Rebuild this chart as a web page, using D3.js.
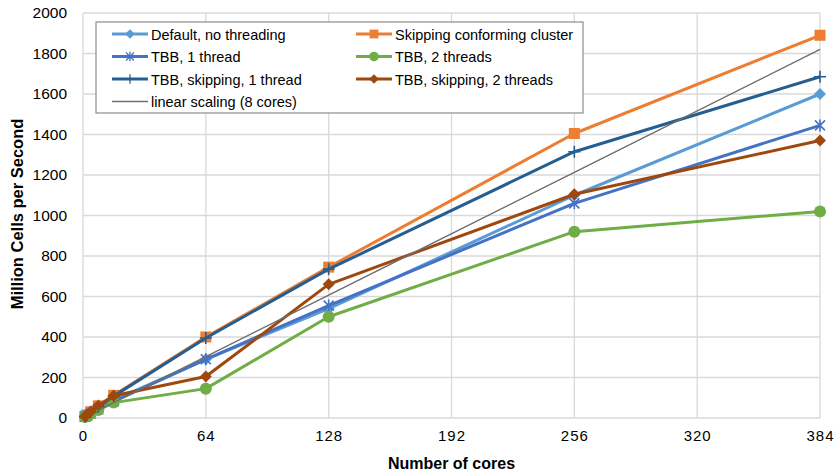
<!DOCTYPE html>
<html>
<head>
<meta charset="utf-8">
<script src="https://cdn.jsdelivr.net/npm/d3@7"></script>
<style>
  body { margin: 0; background: #fff; }
  text { font-family: "Liberation Sans", Arial, sans-serif; fill: #000; }
</style>
</head>
<body>
<svg id="chart" width="834" height="474"></svg>
<script>
// cores on the x axis
var cores = [1, 2, 4, 8, 16, 64, 128, 256, 384];

// series values (million cells per second)
var defaultNoThreading = [6, 12, 24, 46, 88, 290, 540, 1100, 1600];
var skippingConforming = [8, 15, 31, 60, 112, 400, 745, 1405, 1890];
var tbb1Thread = [6, 11, 22, 43, 82, 290, 555, 1060, 1445];
var tbb2Threads = [5, 10, 20, 40, 76, 145, 500, 920, 1020];
var tbbSkip1Thread = [7, 14, 29, 56, 108, 395, 735, 1315, 1685];
var tbbSkip2Threads = [8, 16, 32, 62, 110, 205, 660, 1105, 1370];

var linearCores = [8, 16, 64, 128, 256, 384];
var linearScaling = [38, 76, 303, 607, 1213, 1820];

var xTicks = [0, 64, 128, 192, 256, 320, 384];
var yTicks = [0, 200, 400, 600, 800, 1000, 1200, 1400, 1600, 1800, 2000];

var series = [
  { name: "Default, no threading", x: cores, y: defaultNoThreading, color: "#5B9BD5", marker: "diamond" },
  { name: "Skipping conforming cluster", x: cores, y: skippingConforming, color: "#ED7D31", marker: "square" },
  { name: "TBB, 1 thread", x: cores, y: tbb1Thread, color: "#4472C4", marker: "star" },
  { name: "TBB, 2 threads", x: cores, y: tbb2Threads, color: "#70AD47", marker: "circle" },
  { name: "TBB, skipping, 1 thread", x: cores, y: tbbSkip1Thread, color: "#255E91", marker: "plus" },
  { name: "TBB, skipping, 2 threads", x: cores, y: tbbSkip2Threads, color: "#9E480E", marker: "diamond" },
  { name: "linear scaling (8 cores)", x: linearCores, y: linearScaling, color: "#6f6f6f", marker: "none", thin: true }
];

var svg = d3.select("#chart");
var margin = { left: 83, right: 14, top: 13, bottom: 56 };
var width = 834 - margin.left - margin.right,
    height = 474 - margin.top - margin.bottom;

var x = d3.scaleLinear().domain([0, 384]).range([0, width]);
var y = d3.scaleLinear().domain([0, 2000]).range([height, 0]);

var g = svg.append("g").attr("transform", "translate(" + margin.left + "," + margin.top + ")");

// grid
g.append("g").selectAll("line").data(yTicks).enter().append("line")
  .attr("x1", 0).attr("x2", width)
  .attr("y1", function (d) { return y(d); }).attr("y2", function (d) { return y(d); })
  .attr("stroke", "#d9d9d9").attr("stroke-width", 1.3);
g.append("g").selectAll("line").data(xTicks).enter().append("line")
  .attr("y1", 0).attr("y2", height)
  .attr("x1", function (d) { return x(d); }).attr("x2", function (d) { return x(d); })
  .attr("stroke", "#d9d9d9").attr("stroke-width", 1.3);

// axes
var yAxis = g.append("g").call(d3.axisLeft(y).tickValues(yTicks).tickFormat(d3.format("d")).tickSize(0).tickPadding(16));
yAxis.select(".domain").remove();
yAxis.selectAll("text").style("font-size", "15.5px").style("font-family", "'Liberation Sans', Arial, sans-serif");

var xAxis = g.append("g").attr("transform", "translate(0," + height + ")")
  .call(d3.axisBottom(x).tickValues(xTicks).tickSize(0).tickPadding(12));
xAxis.select(".domain").remove();
xAxis.selectAll("text").style("font-size", "15px")
  .style("font-family", "'Liberation Sans Narrow', 'Liberation Sans', Arial, sans-serif")
  .style("letter-spacing", "1px");

// axis titles
svg.append("text")
  .attr("transform", "translate(23," + (margin.top + 201) + ") rotate(-90)")
  .attr("text-anchor", "middle")
  .style("font-size", "16.5px").style("font-weight", "bold")
  .text("Million Cells per Second");
svg.append("text")
  .attr("x", margin.left + x(192)).attr("y", 469)
  .attr("text-anchor", "middle")
  .style("font-size", "16px").style("font-weight", "bold")
  .style("font-family", "'Liberation Sans Narrow', 'Liberation Sans', Arial, sans-serif")
  .text("Number of cores");

function drawMarker(sel, type, color) {
  if (type === "diamond") {
    sel.append("path").attr("d", "M0,-6L6,0L0,6L-6,0Z").attr("fill", color);
  } else if (type === "square") {
    sel.append("rect").attr("x", -5.5).attr("y", -5.5).attr("width", 11).attr("height", 11).attr("fill", color);
  } else if (type === "circle") {
    sel.append("circle").attr("r", 6).attr("fill", color);
  } else if (type === "star") {
    sel.append("path").attr("d", "M-5,-5L5,5M-5,5L5,-5M0,-6L0,6")
      .attr("stroke", color).attr("stroke-width", 1.6).attr("fill", "none");
  } else if (type === "plus") {
    sel.append("path").attr("d", "M-6,0L6,0M0,-6L0,6")
      .attr("stroke", color).attr("stroke-width", 1.6).attr("fill", "none");
  }
}

var line = d3.line()
  .x(function (d) { return x(d[0]); })
  .y(function (d) { return y(d[1]); });

series.forEach(function (s) {
  var pts = s.x.map(function (c, i) { return [c, s.y[i]]; });
  g.append("path").datum(pts)
    .attr("d", line)
    .attr("fill", "none")
    .attr("stroke", s.color)
    .attr("stroke-width", s.thin ? 1.5 : 3)
    .attr("stroke-linejoin", "round");
  if (s.marker !== "none") {
    g.append("g").selectAll("g").data(pts).enter().append("g")
      .attr("transform", function (d) { return "translate(" + x(d[0]) + "," + y(d[1]) + ")"; })
      .each(function () { drawMarker(d3.select(this), s.marker, s.color); });
  }
});

// legend
var legend = svg.append("g").attr("transform", "translate(96,22)");
legend.append("rect").attr("width", 487).attr("height", 91)
  .attr("fill", "#fff").attr("stroke", "#8c8c8c").attr("stroke-width", 1.2);
series.forEach(function (s, i) {
  var col = i % 2, row = Math.floor(i / 2);
  var item = legend.append("g").attr("transform", "translate(" + (16 + col * 244) + "," + (12 + row * 22.5) + ")");
  item.append("line").attr("x1", 0).attr("x2", 36).attr("y1", 0).attr("y2", 0)
    .attr("stroke", s.color).attr("stroke-width", s.thin ? 1.5 : 3);
  if (s.marker !== "none") {
    var m = item.append("g").attr("transform", "translate(18,0) scale(0.8)");
    drawMarker(m, s.marker, s.color);
  }
  item.append("text").attr("x", 39).attr("y", 5.5)
    .style("font-size", "14.5px").text(s.name);
});
</script>
</body>
</html>
